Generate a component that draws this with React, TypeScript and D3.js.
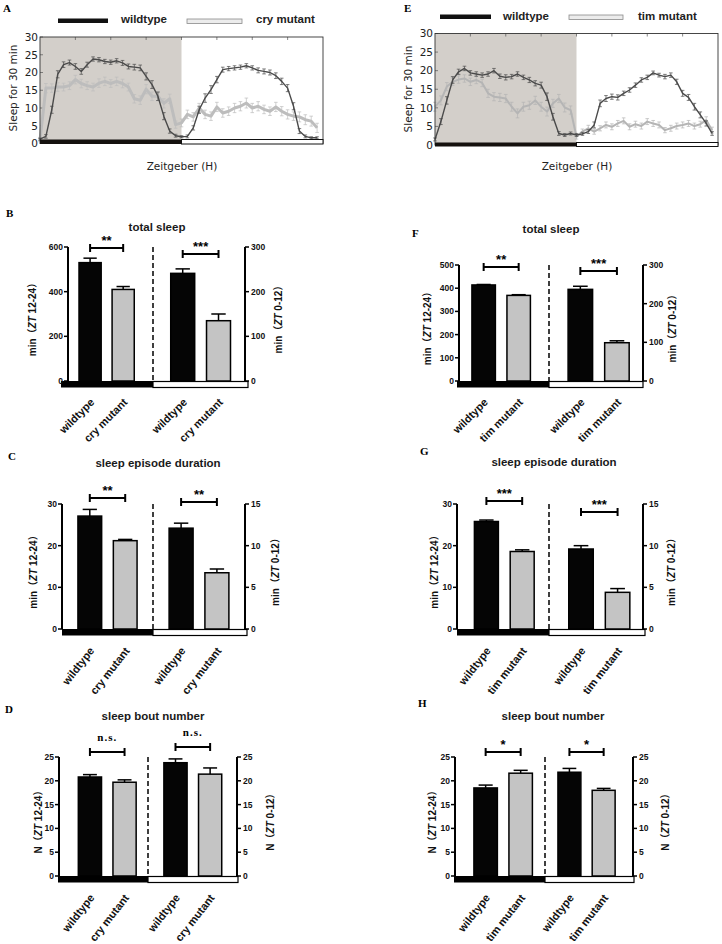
import React from "react";
import * as d3 from "d3";

// ---------------- DATA ----------------
// half-hour bins over a 24 h Zeitgeber day
const hourBins: number[] = d3.range(0, 24, 0.5);

// Panel A : sleep per 30 min
const aWildtype = [1.2, 2, 9.5, 19.5, 22.2, 22.8, 21.7, 20.3, 22.2, 23.8,
  23.6, 23.1, 22.9, 23.3, 22.7, 21.7, 21.5, 21.3, 18.9, 16.6,
  13.3, 7.7, 3.5, 2.2, 1.9, 2, 4.4, 9.5, 12.8, 15.2,
  18, 20.8, 21.1, 21.3, 21.5, 21.9, 21.3, 20.6, 20.3, 20,
  19.1, 17.5, 15.6, 10.5, 3.5, 2, 1.6, 1.6];
const aWildtypeErr = [0.3, 0.5, 1, 1, 0.8, 0.7, 0.8, 0.8, 0.7, 0.6,
  0.6, 0.6, 0.6, 0.6, 0.7, 0.7, 0.8, 0.8, 1, 1.1,
  1.2, 1, 0.6, 0.4, 0.3, 0.4, 0.6, 1, 1.2, 1.1,
  0.9, 0.7, 0.6, 0.6, 0.6, 0.6, 0.6, 0.7, 0.7, 0.7,
  0.8, 0.9, 1, 1, 0.7, 0.4, 0.3, 0.3];
const aCry = [1, 15.6, 15.6, 15.9, 15.9, 16.3, 18, 16.9, 16.3, 15.9,
  17, 17.5, 16.9, 17.5, 16.9, 15.9, 12.6, 12.2, 15.3, 13.3,
  13.3, 11.3, 12.6, 5.3, 5.8, 8.2, 7.5, 10, 8.2, 7.7,
  10.3, 8.6, 9.1, 10, 10.5, 11.4, 10, 10.5, 9.6, 9.1,
  10.3, 9.1, 8.2, 7.7, 7.5, 6.7, 6.3, 4.4];
const aCryErr = [0.5, 1.3, 1.2, 1.2, 1.1, 1.1, 1.2, 1.2, 1.1, 1.1,
  1.2, 1.2, 1.1, 1.2, 1.2, 1.1, 1.2, 1.2, 1.3, 1.2,
  1.2, 1.3, 1.3, 1, 1.1, 1.2, 1.2, 1.3, 1.2, 1.2,
  1.3, 1.2, 1.2, 1.3, 1.3, 1.4, 1.3, 1.3, 1.2, 1.2,
  1.3, 1.3, 1.3, 1.2, 1.4, 1.4, 1.4, 1.3];

// Panel E
const eWildtype = [1.5, 6.3, 12, 17.5, 19.7, 20.6, 19.4, 19.1, 18.8, 19.1,
  20, 18.5, 18.2, 18.4, 19.1, 18.2, 17.5, 16.6, 16.1, 13,
  7.6, 3.1, 2.7, 3.1, 2.7, 3, 3.6, 5.4, 11.2, 12.5,
  13, 12.8, 13.9, 14.8, 16.1, 17.5, 18.2, 19.4, 18.8, 18.4,
  18.8, 17, 13.9, 12.8, 10.3, 8.1, 5.8, 3.1];
const eWildtypeErr = [0.4, 0.8, 1, 0.9, 0.7, 0.6, 0.6, 0.6, 0.6, 0.6,
  0.6, 0.6, 0.7, 0.6, 0.6, 0.6, 0.7, 0.7, 0.8, 1,
  0.9, 0.5, 0.4, 0.4, 0.4, 0.4, 0.5, 0.8, 0.9, 0.8,
  0.7, 0.7, 0.6, 0.6, 0.6, 0.6, 0.6, 0.5, 0.5, 0.6,
  0.6, 0.7, 0.8, 0.8, 0.9, 0.8, 0.7, 0.5];
const eTim = [10.3, 12, 15.7, 17, 17.6, 17.9, 17, 17.5, 16.7, 13.9,
  13, 12.8, 12.5, 10.3, 8.5, 10.3, 10.7, 12, 10.3, 9,
  11.2, 12.5, 10.1, 9.4, 2.2, 3.6, 4.5, 3.6, 4.5, 5.4,
  4.9, 5.8, 6.5, 4.9, 5.6, 5.1, 6.3, 5.8, 5.4, 4,
  4.5, 5.1, 5.4, 5.8, 5.1, 5.6, 6.7, 4];
const eTimErr = [1.2, 1.2, 1.1, 1, 1, 1, 1, 1, 1, 1.1,
  1.1, 1.1, 1.1, 1.2, 1.2, 1.2, 1.1, 1.1, 1.2, 1.2,
  1.1, 1.1, 1.2, 1.1, 0.6, 0.7, 0.8, 0.7, 0.7, 0.8,
  0.8, 0.8, 0.8, 0.8, 0.8, 0.8, 0.8, 0.8, 0.8, 0.7,
  0.8, 0.8, 0.8, 0.8, 0.8, 0.8, 0.9, 0.8];

const yTimeTicks = [0, 5, 10, 15, 20, 25, 30];

// Bar panels
const groupsCry = ["wildtype", "cry mutant"];
const groupsTim = ["wildtype", "tim mutant"];

const totalSleepCryNight = [530, 410];
const totalSleepCryNightErr = [20, 13];
const totalSleepCryDay = [241, 135];
const totalSleepCryDayErr = [10, 15];
const totalSleepTimNight = [414, 369];
const totalSleepTimNightErr = [2, 3];
const totalSleepTimDay = [237, 99];
const totalSleepTimDayErr = [8, 5];

const episodeCryNight = [27.1, 21.2];
const episodeCryNightErr = [1.6, 0.3];
const episodeCryDay = [12.1, 6.75];
const episodeCryDayErr = [0.6, 0.45];
const episodeTimNight = [25.8, 18.6];
const episodeTimNightErr = [0.35, 0.4];
const episodeTimDay = [9.6, 4.4];
const episodeTimDayErr = [0.4, 0.45];

const boutCryNight = [20.8, 19.7];
const boutCryNightErr = [0.5, 0.5];
const boutCryDay = [23.8, 21.4];
const boutCryDayErr = [0.8, 1.3];
const boutTimNight = [18.5, 21.6];
const boutTimNightErr = [0.6, 0.6];
const boutTimDay = [21.8, 18.0];
const boutTimDayErr = [0.8, 0.4];

const ticksTotalCryL = [0, 200, 400, 600];
const ticksTotalR = [0, 100, 200, 300];
const ticksTotalTimL = [0, 100, 200, 300, 400, 500];
const ticksEpisodeL = [0, 10, 20, 30];
const ticksEpisodeR = [0, 5, 10, 15];
const ticksBout = [0, 5, 10, 15, 20, 25];

const sigTotalCry = ["**", "***"];
const sigTotalTim = ["**", "***"];
const sigEpisodeCry = ["**", "**"];
const sigEpisodeTim = ["***", "***"];
const sigBoutCry = ["n.s.", "n.s."];
const sigBoutTim = ["*", "*"];

// ---------------- LAYOUT ----------------
const SANS = "'Liberation Sans', Arial, 'Noto Sans CJK SC', sans-serif";
const DEJAVU = "'DejaVu Sans', sans-serif";
const SERIF = "'Liberation Serif', 'Times New Roman', serif";

const layoutA = {
  x0: 40, x1: 323, yTop: 37, y0: 143.5, stripTop: 139.5, stripBot: 144,
  letter: "A", lx: 3, ly: 12,
  blackX: [58, 108], blackY: [18.5, 23], t1x: 121, ty: 23,
  greyX: [187, 242], greyY: [19, 23.5], t2x: 256,
  ylabX: 17, ylabY: 88, zeitX: 182, zeitY: 170,
};
const layoutE = {
  x0: 435, x1: 718, yTop: 33.5, y0: 145, stripTop: 142.5, stripBot: 146.5,
  letter: "E", lx: 404, ly: 12,
  blackX: [440, 491], blackY: [14.5, 19], t1x: 503, ty: 19.5,
  greyX: [569, 623], greyY: [15, 19.5], t2x: 638,
  ylabX: 412, ylabY: 89, zeitX: 577, zeitY: 170,
};

const layoutB = { letter: "B", lx: 6, ly: 217, tx: 157, ty: 231, left: 68, right: 245, top: 247, zero: 381, dash: 153, stripL: 61, stripR: 248, alignL: 0.37, alignR: 0.55, sigY: [248, 254], yLabL: 32, yLabR: 278, angle: -45 };
const layoutF = { letter: "F", lx: 412, ly: 237, tx: 551, ty: 233, left: 459, right: 643, top: 265, zero: 381, dash: 549, stripL: 457, stripR: 643, alignL: 0.41, alignR: 0.58, sigY: [267, 271], yLabL: 427, yLabR: 672, angle: -45 };
const layoutC = { letter: "C", lx: 8, ly: 460, tx: 158, ty: 467, left: 62, right: 245, top: 504, zero: 629, dash: 153, stripL: 62, stripR: 247, alignL: 0.5, alignR: 0.5, sigY: [498, 502], yLabL: 33, yLabR: 275, angle: -52 };
const layoutG = { letter: "G", lx: 420, ly: 455, tx: 554, ty: 466, left: 457, right: 643, top: 504, zero: 629, dash: 549, stripL: 457, stripR: 645, alignL: 0.54, alignR: 0.6, sigY: [501, 512], yLabL: 434, yLabR: 671, angle: -52 };
const layoutD = { letter: "D", lx: 5, ly: 713, tx: 153, ty: 720, left: 59, right: 237, top: 757, zero: 876, dash: 148, stripL: 58, stripR: 238, alignL: 0.62, alignR: 0.51, sigY: [752, 747], yLabL: 38, yLabR: 270, angle: -52 };
const layoutH = { letter: "H", lx: 418, ly: 707, tx: 553, ty: 720, left: 455, right: 633, top: 757, zero: 876, dash: 545, stripL: 454, stripR: 634, alignL: 0.6, alignR: 0.42, sigY: [752, 752], yLabL: 432, yLabR: 665, angle: -52 };

// ---------------- COMPONENTS ----------------
function TimePanel(props: any) {
  const { L, wt, wtErr, mut, mutErr, mutName, mutColor, mutWidth } = props;
  const x = d3.scaleLinear().domain([0, 24]).range([L.x0, L.x1]);
  const y = d3.scaleLinear().domain([0, 30]).range([L.y0, L.yTop]);
  const line = d3.line<number>().x((_, i) => x(hourBins[i])).y((d) => y(d));
  const xTicks = d3.range(3, 24, 3);
  const errs = (vals: number[], e: number[], color: string, key: string) =>
    vals.map((v, i) => {
      const cx = x(hourBins[i]);
      return (
        <g key={key + i} stroke={color} strokeWidth={0.7}>
          <line x1={cx} x2={cx} y1={y(v - e[i])} y2={y(v + e[i])} />
          <line x1={cx - 1.8} x2={cx + 1.8} y1={y(v + e[i])} y2={y(v + e[i])} />
          <line x1={cx - 1.8} x2={cx + 1.8} y1={y(v - e[i])} y2={y(v - e[i])} />
        </g>
      );
    });
  return (
    <g>
      <text x={L.lx} y={L.ly} fontFamily={SERIF} fontWeight="bold" fontSize={11}>{L.letter}</text>
      {/* legend */}
      <rect x={L.blackX[0]} y={L.blackY[0]} width={L.blackX[1] - L.blackX[0]} height={L.blackY[1] - L.blackY[0]} fill="#111" />
      <text x={L.t1x} y={L.ty} fontFamily={SANS} fontWeight="bold" fontSize={11.5} fill="#222">wildtype</text>
      <rect x={L.greyX[0]} y={L.greyY[0]} width={L.greyX[1] - L.greyX[0]} height={L.greyY[1] - L.greyY[0]} fill="#ececec" stroke="#8a8a8a" strokeWidth={0.8} />
      <text x={L.t2x} y={L.ty} fontFamily={SANS} fontWeight="bold" fontSize={11.5} fill="#222">{mutName}</text>
      {/* plot */}
      <rect x={L.x0} y={L.yTop} width={L.x1 - L.x0} height={L.y0 - L.yTop} fill="#fff" />
      <rect x={x(0)} y={L.yTop} width={x(12) - x(0)} height={L.y0 - L.yTop} fill="#d3cfca" />
      {xTicks.map((t) => (
        <g key={"xt" + t} stroke="#555" strokeWidth={0.7}>
          <line x1={x(t)} x2={x(t)} y1={L.yTop} y2={L.yTop + 3} />
        </g>
      ))}
      {yTimeTicks.map((t) => (
        <g key={"yt" + t}>
          <line x1={L.x0} x2={L.x0 + 3} y1={y(t)} y2={y(t)} stroke="#555" strokeWidth={0.7} />
          <text x={L.x0 - 2} y={y(t)} dy="0.36em" textAnchor="end" fontFamily={DEJAVU} fontSize={10.5} fill="#222">{t}</text>
        </g>
      ))}
      <path d={line(mut) || ""} fill="none" stroke={mutColor} strokeWidth={mutWidth} strokeLinejoin="round" />
      {errs(mut, mutErr, mutColor, "me")}
      <path d={line(wt) || ""} fill="none" stroke="#4a4a4a" strokeWidth={1.4} strokeLinejoin="round" />
      {errs(wt, wtErr, "#4a4a4a", "we")}
      <rect x={L.x0} y={L.yTop} width={L.x1 - L.x0} height={L.y0 - L.yTop} fill="none" stroke="#333" strokeWidth={0.9} />
      <rect x={x(0)} y={L.stripTop} width={x(12) - x(0)} height={L.stripBot - L.stripTop} fill="#15110e" />
      <rect x={x(12)} y={L.stripTop} width={x(24) - x(12)} height={L.stripBot - L.stripTop} fill="#fff" stroke="#111" strokeWidth={1} />
      <text transform={`translate(${L.ylabX},${L.ylabY}) rotate(-90)`} textAnchor="middle" fontFamily={DEJAVU} fontSize={10.5} fill="#222">Sleep for 30 min</text>
      <text x={L.zeitX} y={L.zeitY} textAnchor="middle" fontFamily={DEJAVU} fontSize={10.5} fill="#222">Zeitgeber (H)</text>
    </g>
  );
}

function BarPanel(props: any) {
  const { L, title, groups, night, nightErr, day, dayErr, leftMax, leftTicks, rightMax, rightTicks, sig, prefix } = props;
  const yL = d3.scaleLinear().domain([0, leftMax]).range([L.zero, L.top]);
  const yR = d3.scaleLinear().domain([0, rightMax]).range([L.zero, L.top]);
  const xL = d3.scaleBand<string>().domain(groups).range([L.left, L.dash]).paddingInner(0.33).paddingOuter(0.45).align(L.alignL);
  const xR = d3.scaleBand<string>().domain(groups).range([L.dash, L.right]).paddingInner(0.33).paddingOuter(0.45).align(L.alignR);
  const halves = [
    { x: xL, y: yL, vals: night, errs: nightErr, sigY: L.sigY[0], sig: sig[0] },
    { x: xR, y: yR, vals: day, errs: dayErr, sigY: L.sigY[1], sig: sig[1] },
  ];
  const mid = (L.top + L.zero) / 2 + 3;
  return (
    <g fontFamily={SANS} fontWeight="bold">
      <text x={L.lx} y={L.ly} fontFamily={SERIF} fontWeight="bold" fontSize={11}>{L.letter}</text>
      <text x={L.tx} y={L.ty} textAnchor="middle" fontSize={11.5} fill="#1a1a1a">{title}</text>
      {/* strip */}
      <rect x={L.stripL} y={L.zero} width={L.dash - L.stripL} height={6.5} fill="#000" />
      <rect x={L.dash} y={L.zero + 0.5} width={L.stripR - L.dash} height={6} fill="#fff" stroke="#000" strokeWidth={1.2} />
      {/* bars */}
      {halves.map((h, hi) => (
        <g key={"h" + hi}>
          {groups.map((g: string, i: number) => {
            const bx = h.x(g) as number;
            const bw = h.x.bandwidth();
            const cx = bx + bw / 2;
            const top = h.y(h.vals[i]);
            const et = h.y(h.vals[i] + h.errs[i]);
            return (
              <g key={g}>
                <line x1={cx} x2={cx} y1={top} y2={et} stroke="#000" strokeWidth={1.5} />
                <line x1={cx - bw * 0.3} x2={cx + bw * 0.3} y1={et} y2={et} stroke="#000" strokeWidth={1.5} />
                <rect x={bx} y={top} width={bw} height={L.zero - top} fill={i === 0 ? "#050505" : "#c4c4c4"} stroke="#000" strokeWidth={1.5} />
                <text transform={`translate(${cx + 5},${L.zero + 22}) rotate(${L.angle})`} textAnchor="end" fontSize={11} fill="#111">{g}</text>
              </g>
            );
          })}
          {(() => {
            const c0 = (h.x(groups[0]) as number) + h.x.bandwidth() / 2;
            const c1 = (h.x(groups[1]) as number) + h.x.bandwidth() / 2;
            const isNs = h.sig === "n.s.";
            return (
              <g>
                <line x1={c0} x2={c1} y1={h.sigY} y2={h.sigY} stroke="#000" strokeWidth={2} />
                <line x1={c0} x2={c0} y1={h.sigY - 4} y2={h.sigY + 4} stroke="#000" strokeWidth={2} />
                <line x1={c1} x2={c1} y1={h.sigY - 4} y2={h.sigY + 4} stroke="#000" strokeWidth={2} />
                <text x={(c0 + c1) / 2} y={isNs ? h.sigY - 11 : h.sigY - 3} textAnchor="middle"
                  fontFamily={isNs ? SERIF : SANS} fontSize={isNs ? 11 : 13} letterSpacing={isNs ? 1 : 0}>{h.sig}</text>
              </g>
            );
          })()}
        </g>
      ))}
      {/* dashed divider */}
      <line x1={L.dash} x2={L.dash} y1={L.top} y2={L.zero} stroke="#000" strokeWidth={1.5} strokeDasharray="5,3" />
      {/* axes */}
      <line x1={L.left} x2={L.left} y1={L.top} y2={L.zero} stroke="#000" strokeWidth={2} />
      <line x1={L.right} x2={L.right} y1={L.top} y2={L.zero} stroke="#000" strokeWidth={2} />
      {leftTicks.map((t: number) => (
        <g key={"l" + t}>
          <line x1={L.left - 4} x2={L.left} y1={yL(t)} y2={yL(t)} stroke="#000" strokeWidth={1.5} />
          <text x={L.left - 5} y={yL(t)} dy="0.35em" textAnchor="end" fontSize={8.5} fill="#111">{t}</text>
        </g>
      ))}
      {rightTicks.map((t: number) => (
        <g key={"r" + t}>
          <line x1={L.right} x2={L.right + 4} y1={yR(t)} y2={yR(t)} stroke="#000" strokeWidth={1.5} />
          <text x={L.right + 6} y={yR(t)} dy="0.35em" textAnchor="start" fontSize={8.5} fill="#111">{t}</text>
        </g>
      ))}
      <text transform={`translate(${L.yLabL + 3.5},${mid}) rotate(-90)`} textAnchor="middle" fontSize={10} fill="#111">
        {prefix}（<tspan fontStyle="italic">ZT</tspan> 12-24）
      </text>
      <text transform={`translate(${L.yLabR + 3.5},${mid}) rotate(-90)`} textAnchor="middle" fontSize={10} fill="#111">
        {prefix}（<tspan fontStyle="italic">ZT</tspan> 0-12）
      </text>
    </g>
  );
}

export default function App() {
  return (
    <svg width={722} height={944} viewBox="0 0 722 944"
      style={{ position: "absolute", left: 0, top: 0, display: "block", background: "#fff" }}>
      <rect x={0} y={0} width={722} height={944} fill="#fff" />
      <TimePanel L={layoutA} wt={aWildtype} wtErr={aWildtypeErr} mut={aCry} mutErr={aCryErr}
        mutName="cry mutant" mutColor="#bdbdbd" mutWidth={3} />
      <TimePanel L={layoutE} wt={eWildtype} wtErr={eWildtypeErr} mut={eTim} mutErr={eTimErr}
        mutName="tim mutant" mutColor="#b5b5b5" mutWidth={2} />

      <BarPanel L={layoutB} title="total sleep" groups={groupsCry}
        night={totalSleepCryNight} nightErr={totalSleepCryNightErr} day={totalSleepCryDay} dayErr={totalSleepCryDayErr}
        leftMax={600} leftTicks={ticksTotalCryL} rightMax={300} rightTicks={ticksTotalR} sig={sigTotalCry} prefix="min" />
      <BarPanel L={layoutF} title="total sleep" groups={groupsTim}
        night={totalSleepTimNight} nightErr={totalSleepTimNightErr} day={totalSleepTimDay} dayErr={totalSleepTimDayErr}
        leftMax={500} leftTicks={ticksTotalTimL} rightMax={300} rightTicks={ticksTotalR} sig={sigTotalTim} prefix="min" />
      <BarPanel L={layoutC} title="sleep episode duration" groups={groupsCry}
        night={episodeCryNight} nightErr={episodeCryNightErr} day={episodeCryDay} dayErr={episodeCryDayErr}
        leftMax={30} leftTicks={ticksEpisodeL} rightMax={15} rightTicks={ticksEpisodeR} sig={sigEpisodeCry} prefix="min" />
      <BarPanel L={layoutG} title="sleep episode duration" groups={groupsTim}
        night={episodeTimNight} nightErr={episodeTimNightErr} day={episodeTimDay} dayErr={episodeTimDayErr}
        leftMax={30} leftTicks={ticksEpisodeL} rightMax={15} rightTicks={ticksEpisodeR} sig={sigEpisodeTim} prefix="min" />
      <BarPanel L={layoutD} title="sleep bout number" groups={groupsCry}
        night={boutCryNight} nightErr={boutCryNightErr} day={boutCryDay} dayErr={boutCryDayErr}
        leftMax={25} leftTicks={ticksBout} rightMax={25} rightTicks={ticksBout} sig={sigBoutCry} prefix="N" />
      <BarPanel L={layoutH} title="sleep bout number" groups={groupsTim}
        night={boutTimNight} nightErr={boutTimNightErr} day={boutTimDay} dayErr={boutTimDayErr}
        leftMax={25} leftTicks={ticksBout} rightMax={25} rightTicks={ticksBout} sig={sigBoutTim} prefix="N" />
    </svg>
  );
}
